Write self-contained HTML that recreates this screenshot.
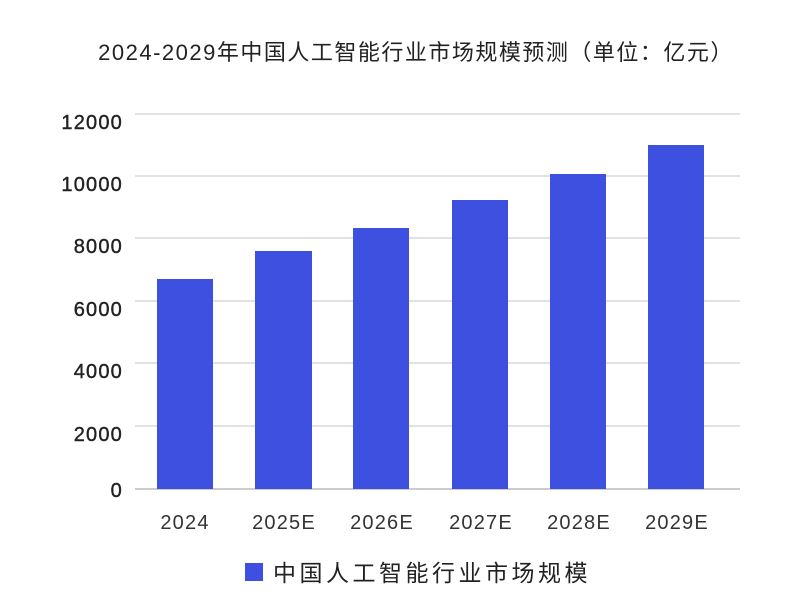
<!DOCTYPE html>
<html><head><meta charset="utf-8"><style>
html,body{margin:0;padding:0;background:#fff;}
svg{display:block;}
</style></head><body>
<svg width="803" height="614" viewBox="0 0 803 614" xmlns="http://www.w3.org/2000/svg" font-family="Liberation Sans, Noto Sans CJK SC, sans-serif">
<rect width="803" height="614" fill="#fff"/>
<text x="416" y="60" text-anchor="middle" font-size="22" letter-spacing="1.5" fill="#222">2024-2029年中国人工智能行业市场规模预测（单位：亿元）</text>
<g stroke="#d9d9d9" stroke-width="1.5">
<line x1="135" y1="114" x2="740" y2="114"/>
<line x1="135" y1="176" x2="740" y2="176"/>
<line x1="135" y1="238" x2="740" y2="238"/>
<line x1="135" y1="301" x2="740" y2="301"/>
<line x1="135" y1="363" x2="740" y2="363"/>
<line x1="135" y1="426" x2="740" y2="426"/>
</g>
<line x1="135" y1="489" x2="740" y2="489" stroke="#bbb" stroke-width="1.5"/>
<g font-size="20" fill="#222" text-anchor="end" letter-spacing="1.2" stroke="#222" stroke-width="0.4">
<text x="123" y="129">12000</text>
<text x="123" y="191">10000</text>
<text x="123" y="253">8000</text>
<text x="123" y="316">6000</text>
<text x="123" y="378">4000</text>
<text x="123" y="441">2000</text>
<text x="123" y="497">0</text>
</g>
<g fill="#3d50e0">
<rect x="157" y="279" width="56" height="210"/>
<rect x="255" y="251" width="57" height="238"/>
<rect x="353" y="228" width="56" height="261"/>
<rect x="452" y="200" width="56" height="289"/>
<rect x="550" y="174" width="56" height="315"/>
<rect x="648" y="145" width="56" height="344"/>
</g>
<g font-size="20" fill="#333" text-anchor="middle" letter-spacing="1.2">
<text x="185" y="529">2024</text>
<text x="284" y="529">2025E</text>
<text x="382" y="529">2026E</text>
<text x="481" y="529">2027E</text>
<text x="579" y="529">2028E</text>
<text x="677" y="529">2029E</text>
</g>
<rect x="245" y="563" width="18" height="18" fill="#3d50e0"/>
<text x="273" y="581" font-size="23" letter-spacing="3.5" fill="#222">中国人工智能行业市场规模</text>
</svg>
</body></html>
